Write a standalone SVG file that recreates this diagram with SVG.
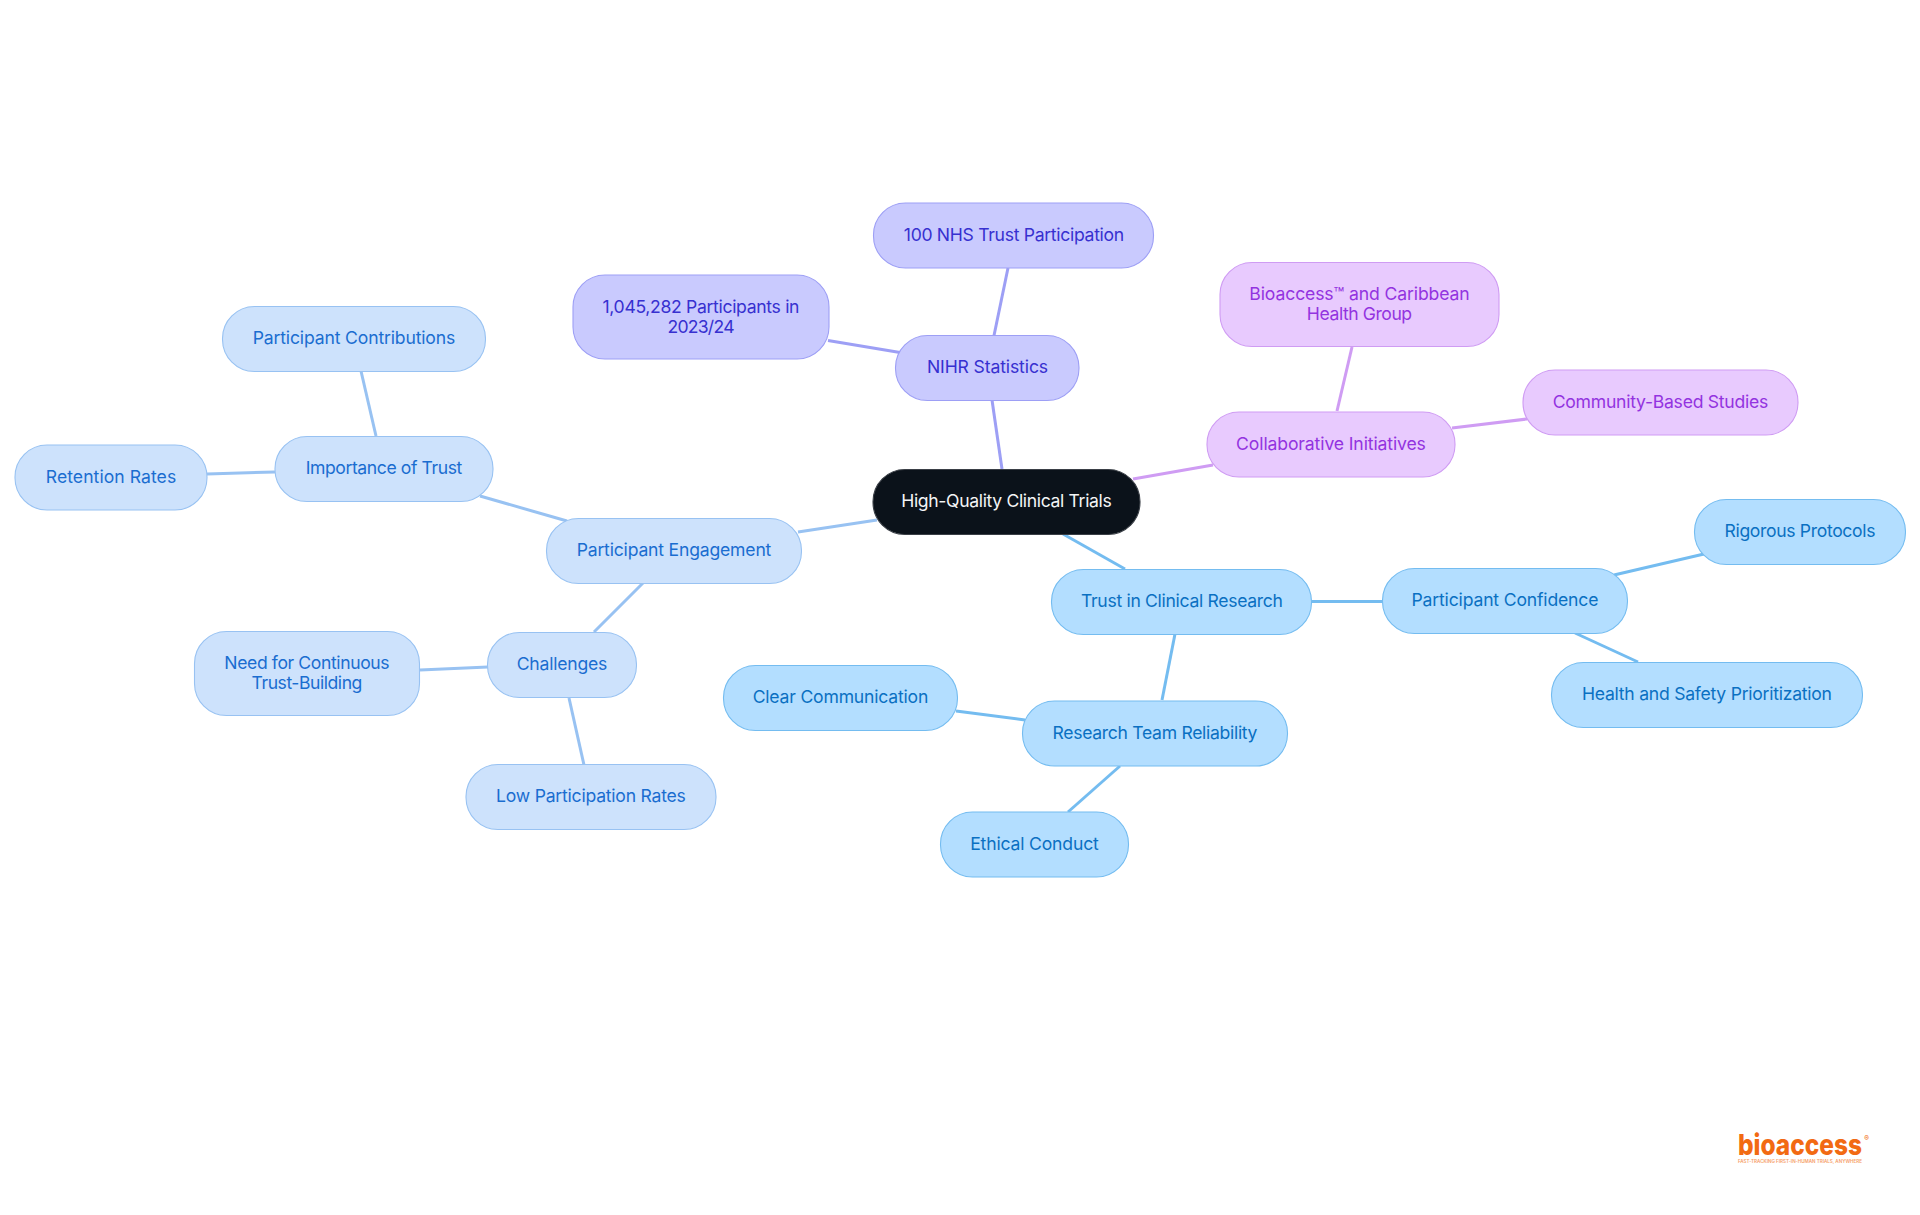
<svg xmlns="http://www.w3.org/2000/svg" width="1920" height="1215" viewBox="0 0 1920 1215">
<style>
.n{stroke-width:1.1}
text{font-family:"Inter","Noto Sans",sans-serif;font-size:17.6px;text-anchor:middle}
.c line{stroke-width:3;fill:none}
.root rect{fill:#0b121a;stroke:#3a3f46}.root text{fill:#f4f5f6}
.sky rect{fill:#b3deff;stroke:#74bcf0}.sky text{fill:#0a70c2}
.blue rect{fill:#cde2fc;stroke:#98c2f2}.blue text{fill:#1a6dd0}
.ind rect{fill:#c9cafe;stroke:#9d9ff5}.ind text{fill:#3730d0}
.pur rect{fill:#e8cafe;stroke:#cf9cf3}.pur text{fill:#9333e0}
</style>
<rect width="1920" height="1215" fill="#fff"/>
<g id="connectors" class="c">
<g stroke="#74bcf0"><line x1="1063" y1="534" x2="1125" y2="569"/><line x1="1312" y1="601.5" x2="1382" y2="601.5"/><line x1="1614" y1="575" x2="1704" y2="554"/><line x1="1575" y1="633" x2="1638" y2="662"/><line x1="1175" y1="634" x2="1162" y2="700"/><line x1="1025" y1="720" x2="956" y2="711"/><line x1="1120" y1="766" x2="1068" y2="812"/></g>
<g stroke="#98c2f2"><line x1="877" y1="520" x2="798" y2="532"/><line x1="567" y1="521" x2="480" y2="496"/><line x1="376" y1="436" x2="361" y2="371"/><line x1="275" y1="472" x2="207" y2="474"/><line x1="643" y1="583" x2="594" y2="632"/><line x1="488" y1="667" x2="420" y2="670"/><line x1="569" y1="698" x2="584" y2="765"/></g>
<g stroke="#9d9ff5"><line x1="992" y1="400" x2="1002" y2="469"/><line x1="994" y1="335.5" x2="1008" y2="268"/><line x1="900" y1="352.5" x2="828" y2="340.5"/></g>
<g stroke="#cf9cf3"><line x1="1133" y1="479" x2="1213" y2="465"/><line x1="1337" y1="411" x2="1352" y2="347"/><line x1="1452" y1="428" x2="1527" y2="419"/></g>
</g>
<g id="root" class="root"><rect class="n" x="873" y="469.5" width="267" height="65" rx="32"/><text x="1006.5" y="507" textLength="210.6">High-Quality Clinical Trials</text></g>
<g id="trust" class="sky"><rect class="n" x="1051.5" y="569.5" width="260" height="65" rx="32"/><text x="1182" y="607" textLength="202">Trust in Clinical Research</text></g>
<g id="confidence" class="sky"><rect class="n" x="1382.5" y="568.5" width="245" height="65" rx="32"/><text x="1505" y="606" textLength="187">Participant Confidence</text></g>
<g id="rigorous" class="sky"><rect class="n" x="1694.5" y="499.5" width="211" height="65" rx="32"/><text x="1800" y="537" textLength="151">Rigorous Protocols</text></g>
<g id="health" class="sky"><rect class="n" x="1551.5" y="662.5" width="311" height="65" rx="32"/><text x="1707" y="700" textLength="250">Health and Safety Prioritization</text></g>
<g id="team" class="sky"><rect class="n" x="1022.5" y="701" width="265" height="65" rx="32"/><text x="1155" y="739" textLength="205">Research Team Reliability</text></g>
<g id="clear" class="sky"><rect class="n" x="723.5" y="665.5" width="234" height="65" rx="32"/><text x="840.5" y="703" textLength="175.7">Clear Communication</text></g>
<g id="ethical" class="sky"><rect class="n" x="940.5" y="812" width="188" height="65" rx="32"/><text x="1034.5" y="849.5" textLength="128.6">Ethical Conduct</text></g>
<g id="engagement" class="blue"><rect class="n" x="546.5" y="518.5" width="255" height="65" rx="32"/><text x="674" y="556" textLength="194.7">Participant Engagement</text></g>
<g id="importance" class="blue"><rect class="n" x="275" y="436.5" width="218" height="65" rx="32"/><text x="384" y="474" textLength="156.7">Importance of Trust</text></g>
<g id="contributions" class="blue"><rect class="n" x="222.5" y="306.5" width="263" height="65" rx="32"/><text x="354" y="344" textLength="202.6">Participant Contributions</text></g>
<g id="retention" class="blue"><rect class="n" x="15" y="445" width="192" height="65" rx="32"/><text x="111" y="482.5" textLength="130.4">Retention Rates</text></g>
<g id="challenges" class="blue"><rect class="n" x="487.5" y="632.5" width="149" height="65" rx="32"/><text x="562" y="670" textLength="90.6">Challenges</text></g>
<g id="need" class="blue"><rect class="n" x="194.5" y="631.5" width="225" height="84" rx="32"/><text x="307" y="669" textLength="165.3">Need for Continuous</text><text x="307" y="689" textLength="110.8">Trust-Building</text></g>
<g id="low" class="blue"><rect class="n" x="466" y="764.5" width="250" height="65" rx="32"/><text x="591" y="801.5" textLength="189.8">Low Participation Rates</text></g>
<g id="nihr" class="ind"><rect class="n" x="895.5" y="335.5" width="183.5" height="65" rx="32"/><text x="987.5" y="373" textLength="121.2">NIHR Statistics</text></g>
<g id="nhs" class="ind"><rect class="n" x="873.5" y="203" width="280" height="65" rx="32"/><text x="1014" y="240.5" textLength="220.4">100 NHS Trust Participation</text></g>
<g id="participants" class="ind"><rect class="n" x="573" y="275" width="256" height="84" rx="32"/><text x="701" y="313" textLength="197">1,045,282 Participants in</text><text x="701" y="333" textLength="67">2023/24</text></g>
<g id="collab" class="pur"><rect class="n" x="1207" y="412" width="248" height="65" rx="32"/><text x="1331" y="450" textLength="189.8">Collaborative Initiatives</text></g>
<g id="bio" class="pur"><rect class="n" x="1220" y="262.5" width="279" height="84" rx="32"/><text x="1359.5" y="300" textLength="220.4">Bioaccess™ and Caribbean</text><text x="1359.5" y="320" textLength="105.3">Health Group</text></g>
<g id="community" class="pur"><rect class="n" x="1523" y="370" width="275" height="65" rx="32"/><text x="1660.5" y="407.5" textLength="215.5">Community-Based Studies</text></g>
<g id="logo"><text x="1800" y="1155" textLength="124" lengthAdjust="spacingAndGlyphs" style="font-size:29px;font-weight:800" fill="#f26a12">bioaccess</text><text x="1866.5" y="1141" style="font-size:7px;font-weight:700" fill="#f26a12">®</text><text x="1800" y="1163" textLength="124" lengthAdjust="spacingAndGlyphs" style="font-size:4.4px;font-weight:600" fill="#f6a06a">FAST-TRACKING FIRST-IN-HUMAN TRIALS, ANYWHERE</text></g>
</svg>
